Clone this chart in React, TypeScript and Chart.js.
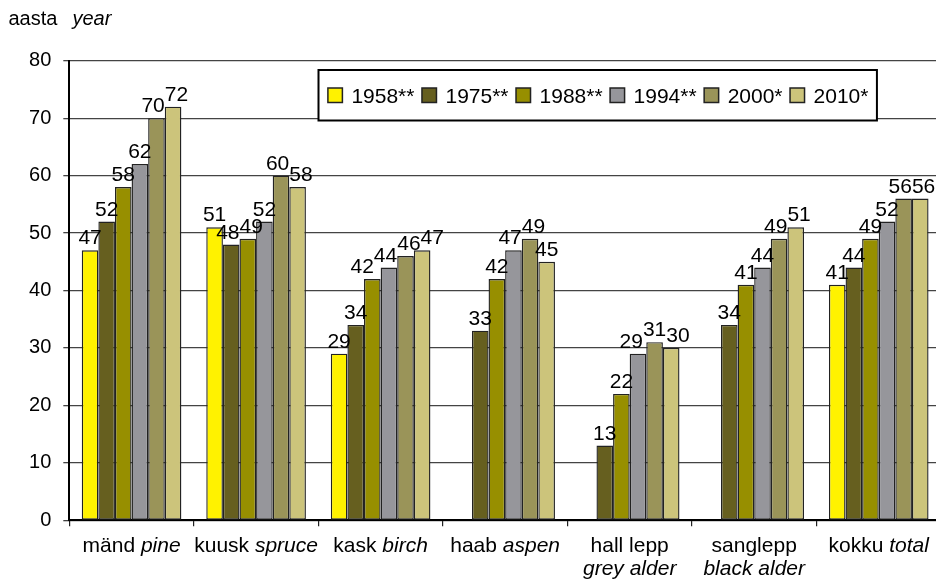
import React, { useEffect, useRef } from "react";
import { Chart, registerables } from "chart.js";

Chart.register(...registerables);

const FONT = '"Liberation Sans", Arial, Helvetica, sans-serif';

// ---- data ----
const categoriesNative = ["mänd", "kuusk", "kask", "haab", "hall lepp", "sanglepp", "kokku"];
const categoriesEnglish = ["pine", "spruce", "birch", "aspen", "grey alder", "black alder", "total"];
const seriesLabels = ["1958**", "1975**", "1988**", "1994**", "2000*", "2010*"];
const values1958 = [47, 51, 29, null, null, null, 41];
const values1975 = [52, 48, 34, 33, 13, 34, 44];
const values1988 = [58, 49, 42, 42, 22, 41, 49];
const values1994 = [62, 52, 44, 47, 29, 44, 52];
const values2000 = [70, 60, 46, 49, 31, 49, 56];
const values2010 = [72, 58, 47, 45, 30, 51, 56];
const yMin = 0;
const yMax = 80;
const yStep = 10;
const axisTitleNative = "aasta";
const axisTitleEnglish = "year";

const seriesColors = ["#FFF200", "#665F1F", "#978F00", "#96969B", "#9A9459", "#CCC47B"];

const titlePlugin = {
  id: "axisTitle",
  afterDraw(chart: any) {
    const ctx = chart.ctx;
    ctx.save();
    ctx.fillStyle = "#000";
    ctx.textBaseline = "alphabetic";
    ctx.textAlign = "left";
    ctx.font = `20px ${FONT}`;
    ctx.fillText(axisTitleNative, 8.5, 25);
    const w = ctx.measureText(axisTitleNative).width;
    ctx.font = `italic 20px ${FONT}`;
    ctx.fillText(axisTitleEnglish, 8.5 + w + 15, 25);
    ctx.restore();
  },
};

const legendPlugin = {
  id: "boxLegend",
  afterDraw(chart: any) {
    const ctx = chart.ctx;
    const ds = chart.data.datasets;
    const left = 318.5;
    const top = 70;
    const height = 50.5;
    const padL = 9.4;
    const padR = 8.5;
    const sq = 14.5;
    const gapSqText = 9;
    const gapItem = 7.5;
    ctx.save();
    ctx.font = `21px ${FONT}`;
    const widths = ds.map((d: any) => ctx.measureText(d.label).width);
    let total = padL + padR;
    widths.forEach((w: number, i: number) => {
      total += sq + gapSqText + w + (i < widths.length - 1 ? gapItem : 0);
    });
    ctx.fillStyle = "#fff";
    ctx.fillRect(left, top, total, height);
    ctx.lineWidth = 2;
    ctx.strokeStyle = "#000";
    ctx.strokeRect(left, top, total, height);
    const cy = top + height / 2;
    let x = left + padL;
    ds.forEach((d: any, i: number) => {
      ctx.fillStyle = d.backgroundColor;
      ctx.fillRect(x, cy - sq / 2, sq, sq);
      ctx.lineWidth = 1.5;
      ctx.strokeStyle = "#222";
      ctx.strokeRect(x, cy - sq / 2, sq, sq);
      x += sq + gapSqText;
      ctx.fillStyle = "#000";
      ctx.textBaseline = "alphabetic";
      ctx.textAlign = "left";
      ctx.fillText(d.label, x, cy + 7.3);
      x += widths[i] + gapItem;
    });
    ctx.restore();
  },
};

const dataLabelPlugin = {
  id: "dataLabels",
  afterDatasetsDraw(chart: any) {
    const ctx = chart.ctx;
    ctx.save();
    ctx.font = `21px ${FONT}`;
    const groups: any[][] = chart.data.labels.map(() => []);
    chart.data.datasets.forEach((ds: any, di: number) => {
      const meta = chart.getDatasetMeta(di);
      meta.data.forEach((bar: any, i: number) => {
        const v = ds.data[i];
        if (v == null) return;
        const text = String(v);
        const w = ctx.measureText(text).width;
        groups[i].push({ text, x: bar.x, base: bar.y - 6, w });
      });
    });
    const h = 15;
    groups.forEach((g) => {
      for (let it = 0; it < 40; it++) {
        for (let a = 0; a < g.length; a++) {
          for (let b = a + 1; b < g.length; b++) {
            const A = g[a];
            const B = g[b];
            if (Math.abs(A.base - B.base) >= h) continue;
            const ov = A.x + A.w / 2 - (B.x - B.w / 2);
            if (ov > 0.01) {
              A.x -= ov / 2;
              B.x += ov / 2;
            }
          }
        }
      }
      g.forEach((l) => {
        ctx.textAlign = "center";
        ctx.textBaseline = "alphabetic";
        ctx.fillStyle = "#000";
        ctx.fillText(l.text, l.x, l.base);
      });
    });
    ctx.restore();
  },
};

const categoryLabelPlugin = {
  id: "categoryLabels",
  afterDraw(chart: any) {
    const ctx = chart.ctx;
    const xs = chart.scales.x;
    const n = chart.data.labels.length;
    const catW = xs.width / n;
    const y1 = chart.chartArea.bottom + 31.4;
    const y2 = y1 + 23.3;
    ctx.save();
    ctx.fillStyle = "#000";
    ctx.textBaseline = "alphabetic";
    categoriesNative.forEach((nat, i) => {
      const eng = categoriesEnglish[i];
      const cx = xs.getPixelForValue(i);
      ctx.font = `21px ${FONT}`;
      const wn = ctx.measureText(nat).width;
      const wsp = ctx.measureText(" ").width;
      ctx.font = `italic 21px ${FONT}`;
      const we = ctx.measureText(eng).width;
      const total = wn + wsp + we;
      if (total <= catW * 1.2) {
        const start = cx - total / 2;
        ctx.textAlign = "left";
        ctx.font = `21px ${FONT}`;
        ctx.fillText(nat, start, y1);
        ctx.font = `italic 21px ${FONT}`;
        ctx.fillText(eng, start + wn + wsp, y1);
      } else {
        ctx.textAlign = "center";
        ctx.font = `21px ${FONT}`;
        ctx.fillText(nat, cx, y1);
        ctx.font = `italic 21px ${FONT}`;
        ctx.fillText(eng, cx, y2);
      }
    });
    ctx.restore();
  },
};

export default function App() {
  const ref = useRef<HTMLCanvasElement>(null);
  useEffect(() => {
    const canvas = ref.current;
    if (!canvas) return;
    const seriesValues = [values1958, values1975, values1988, values1994, values2000, values2010];
    const chart = new Chart(canvas, {
      type: "bar",
      data: {
        labels: categoriesNative.map((nat, i) => `${nat} ${categoriesEnglish[i]}`),
        datasets: seriesLabels.map((label, i) => ({
          label,
          data: seriesValues[i] as any,
          backgroundColor: seriesColors[i],
          borderColor: "#222",
          borderWidth: 1.4,
          borderSkipped: false,
          categoryPercentage: 0.8,
          barPercentage: 1,
        })),
      },
      options: {
        responsive: false,
        animation: false,
        devicePixelRatio: 1,
        layout: { padding: { left: 0, right: 0, top: 60.7, bottom: 0 } },
        plugins: {
          legend: { display: false },
          tooltip: { enabled: false },
          title: { display: false },
        },
        scales: {
          x: {
            ticks: { display: false },
            grid: {
              display: true,
              drawOnChartArea: false,
              drawTicks: true,
              tickLength: 6,
              color: "#222",
              lineWidth: 1.2,
            },
            border: { display: true, color: "#000", width: 2 },
            afterFit: (s: any) => {
              s.height = 59.7;
            },
          },
          y: {
            min: yMin,
            max: yMax,
            ticks: {
              stepSize: yStep,
              font: { family: FONT, size: 20 },
              color: "#000",
              padding: 12,
            },
            grid: { color: "#444", lineWidth: 1.3, tickLength: 6 },
            border: { display: true, color: "#000", width: 2 },
            afterFit: (s: any) => {
              s.width = 69.3;
            },
          },
        },
      } as any,
      plugins: [dataLabelPlugin, categoryLabelPlugin, legendPlugin, titlePlugin],
    });
    return () => chart.destroy();
  }, []);

  return (
    <div
      style={{
        position: "fixed",
        left: 0,
        top: 0,
        width: 936,
        height: 580,
        overflow: "hidden",
        background: "#fff",
      }}
    >
      <canvas ref={ref} width={941} height={580} style={{ display: "block" }} />
    </div>
  );
}
